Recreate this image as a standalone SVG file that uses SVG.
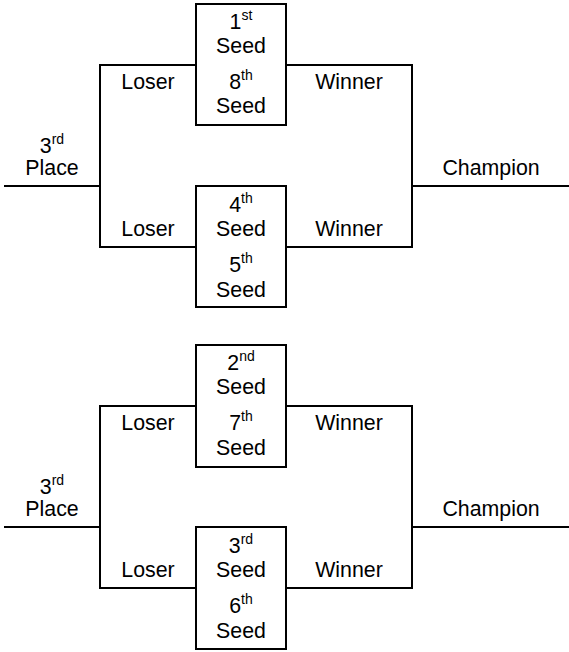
<svg xmlns="http://www.w3.org/2000/svg" width="569" height="652" viewBox="0 0 569 652">
<style>
.ln{fill:none;stroke:#000;stroke-width:2}
.bx{fill:#fff;stroke:#000;stroke-width:2}
text{font-family:"Liberation Sans",Arial,sans-serif;font-size:21.33px;fill:#000;text-anchor:middle}
.sup{font-size:14px}
</style>
<rect width="569" height="652" fill="#fff"/>
<g id="connectors">
<path class="ln" d="M196,65H100V247H196M100,186H4M286,65H412V247H286M412,186H569"/>
<path class="ln" d="M196,406H100V588H196M100,527H4M286,406H412V588H286M412,527H569"/>
</g>
<g id="seed1v8">
<rect class="bx" x="196" y="4" width="90" height="121"/>
<text x="241" y="29">1<tspan class="sup" dy="-9">st</tspan></text>
<text x="241" y="53">Seed</text>
<text x="241" y="89">8<tspan class="sup" dy="-9">th</tspan></text>
<text x="241" y="113">Seed</text>
</g>
<g id="seed4v5">
<rect class="bx" x="196" y="186" width="90" height="121"/>
<text x="241" y="212">4<tspan class="sup" dy="-9">th</tspan></text>
<text x="241" y="236">Seed</text>
<text x="241" y="272">5<tspan class="sup" dy="-9">th</tspan></text>
<text x="241" y="297">Seed</text>
</g>
<g id="labels1">
<text x="148" y="89">Loser</text>
<text x="349" y="89">Winner</text>
<text x="148" y="236">Loser</text>
<text x="349" y="236">Winner</text>
<text x="52" y="153">3<tspan class="sup" dy="-9">rd</tspan></text>
<text x="52" y="175">Place</text>
<text x="491" y="175">Champion</text>
</g>
<g id="seed2v7">
<rect class="bx" x="196" y="345" width="90" height="122"/>
<text x="241" y="370">2<tspan class="sup" dy="-9">nd</tspan></text>
<text x="241" y="394">Seed</text>
<text x="241" y="430">7<tspan class="sup" dy="-9">th</tspan></text>
<text x="241" y="455">Seed</text>
</g>
<g id="seed3v6">
<rect class="bx" x="196" y="527" width="90" height="122"/>
<text x="241" y="553">3<tspan class="sup" dy="-9">rd</tspan></text>
<text x="241" y="577">Seed</text>
<text x="241" y="613">6<tspan class="sup" dy="-9">th</tspan></text>
<text x="241" y="638">Seed</text>
</g>
<g id="labels2">
<text x="148" y="430">Loser</text>
<text x="349" y="430">Winner</text>
<text x="148" y="577">Loser</text>
<text x="349" y="577">Winner</text>
<text x="52" y="494">3<tspan class="sup" dy="-9">rd</tspan></text>
<text x="52" y="516">Place</text>
<text x="491" y="516">Champion</text>
</g>
</svg>
